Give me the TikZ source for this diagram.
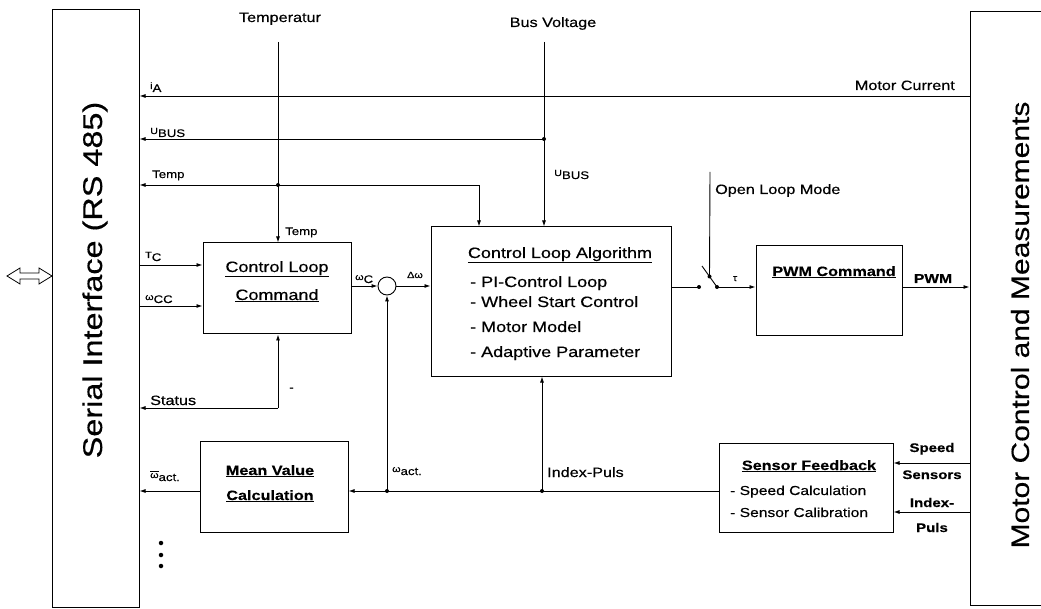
\documentclass[tikz,border=0pt]{standalone}
\usepackage{fontspec}
\setmainfont[FakeStretch=1.2, FakeBold=0.4, BoldFeatures={FakeBold=0.3}]{Liberation Sans}
\usetikzlibrary{arrows.meta, positioning}

\newcommand{\sig}[2]{\raisebox{3pt}{\fontsize{9}{10}\selectfont #1}#2}
\newcommand{\ovl}[1]{\leavevmode\vbox{\hrule height 0.8pt\kern1.2pt\hbox{#1}}}
\newcommand{\uln}[1]{\leavevmode\vtop{\hbox{#1}\kern1.2pt\hrule height 0.9pt}}

\begin{document}
\begin{tikzpicture}[x=1pt, y=-1pt,
    box/.style={draw, line width=1pt, inner sep=0pt},
    arrow/.style={-{Latex[length=6pt,width=4pt]}, line width=0.9pt},
    wire/.style={line width=0.9pt},
    dot/.style={circle, fill, inner sep=0pt, minimum size=4pt},
    lbl/.style={font=\fontsize{13.5}{16}\selectfont, inner sep=0pt, anchor=base west},
    sml/.style={font=\fontsize{11}{13}\selectfont, inner sep=0pt, anchor=base west},
    tny/.style={font=\fontsize{9}{10}\selectfont, inner sep=0pt, anchor=base},
    title/.style={font=\fontsize{15}{18}\selectfont, inner sep=0pt, anchor=base},
    btitle/.style={font=\bfseries\fontsize{13.5}{16}\selectfont, inner sep=0pt, anchor=base},
    item/.style={font=\fontsize{15}{18}\selectfont, inner sep=0pt, anchor=base west},
    sitem/.style={font=\fontsize{13}{16}\selectfont, inner sep=0pt, anchor=base west}
]
    \useasboundingbox (0,0) rectangle (1041,609);
    \clip (0,0) rectangle (1041,609);
    \fill[white] (0,0) rectangle (1041,609);

    % outer interfaces
    \node[box, minimum width=87pt, minimum height=597pt] (serial) at (95.5,308.5) {};
    \node[rotate=90, font=\fontsize{27}{30}\selectfont] (serialtxt) at (95,280) {Serial Interface (RS 485)};
    \node[box, minimum width=130pt, minimum height=593pt] (motor) at (1035,308.5) {};
    \node[rotate=90, font=\fontsize{25}{28}\selectfont] (motortxt) at (1020,325) {Motor Control and Measurements};
    \draw[line width=0.8pt] (7,276) -- (20,268) -- (20,273) -- (39,273) -- (39,268) -- (52,276)
        -- (39,284) -- (39,279) -- (20,279) -- (20,284) -- cycle;

    % blocks
    \node[box, minimum width=148pt, minimum height=91pt] (command) at (277,288.5) {};
    \node[title] (commandtxt) at (277,272) {\uln{Control Loop}};
    \node[title] (commandtxt2) at (277,300) {\uln{Command}};

    \node[box, minimum width=240pt, minimum height=149pt] (algorithm) at (551,301.5) {};
    \node[title] (algorithmtxt) at (560,258) {\uln{Control Loop Algorithm}};
    \foreach \y/\t in {287/PI-Control Loop, 307/Wheel Start Control, 332/Motor Model, 357/Adaptive Parameter}
        \node[item] (algitem\y) at (470,\y) {- \t};

    \node[box, minimum width=146pt, minimum height=90pt] (pwm) at (829,291) {};
    \node[btitle] (pwmtxt) at (834,276) {\uln{PWM Command}};

    \node[box, minimum width=174pt, minimum height=89pt] (feedback) at (806,487.5) {};
    \node[btitle] (feedbacktxt) at (809,470) {\uln{Sensor Feedback}};
    \node[sitem] (fbitem1) at (730,495) {- Speed Calculation};
    \node[sitem] (fbitem2) at (730,517) {- Sensor Calibration};

    \node[box, minimum width=148pt, minimum height=91pt] (mean) at (274,486.5) {};
    \node[btitle] (meantxt) at (270,475) {\uln{Mean Value}};
    \node[btitle] (meantxt2) at (270,500) {\uln{Calculation}};

    \node[circle, draw, line width=0.9pt, minimum size=18pt, inner sep=0pt] (sum) at (387,286) {};

    % junctions and levels
    \coordinate (tempin) at (278,42);
    \coordinate (busin) at (544,42);
    \coordinate (loopin) at (710,172);
    \coordinate (tempbend) at (479,185);
    \coordinate (stat) at (278,408);
    \coordinate (bladetip) at (702,266);
    \coordinate (iay) at (0,96);
    \coordinate (tcy) at (0,265);
    \coordinate (wccy) at (0,306);
    \coordinate (spdy) at (0,463);
    \coordinate (idxy) at (0,512);
    \coordinate (fby) at (0,491);
    \node[dot] (tempdot) at (278,185) {};
    \node[dot] (busdot) at (544,139) {};
    \node[dot] (swin) at (699,287) {};
    \node[dot] (swout) at (717,287) {};
    \node[dot] (bladedot) at (709.5,276.5) {};
    \node[dot] (actdot) at (387,491) {};
    \node[dot] (idxdot) at (542,491) {};
    \foreach \y in {543,555,566}
        \node[dot, minimum size=4.5pt] (vdot\y) at (161,\y) {};

    % connectors
    \draw[arrow] (motor.west |- iay) -- (serial.east |- iay);
    \draw[arrow] (busin) -- (busin |- algorithm.north);
    \draw[arrow] (busdot.center) -- (serial.east |- busdot);
    \draw[arrow] (tempin) -- (tempin |- command.north);
    \draw[arrow] (tempdot.center) -- (serial.east |- tempdot);
    \draw[arrow] (tempdot.center) -- (tempbend) -- (tempbend |- algorithm.north);
    \draw[arrow] (serial.east |- tcy) -- (command.west |- tcy);
    \draw[arrow] (serial.east |- wccy) -- (command.west |- wccy);
    \draw[arrow] (stat) -- (serial.east |- stat);
    \draw[arrow] (stat) -- (stat |- command.south);
    \draw[arrow] (command.east |- sum) -- (sum.west);
    \draw[arrow] (sum.east) -- (algorithm.west |- sum);
    \draw[wire] (algorithm.east |- swin) -- (swin.center);
    \draw[wire] (swout.center) -- (bladetip);
    \draw[wire] (loopin) -- (bladedot.center);
    \draw[arrow] (swout.center) -- (pwm.west |- swout);
    \draw[arrow] (pwm.east |- swout) -- (motor.west |- swout);
    \draw[arrow] (motor.west |- spdy) -- (feedback.east |- spdy);
    \draw[arrow] (motor.west |- idxy) -- (feedback.east |- idxy);
    \draw[arrow] (feedback.west |- fby) -- (mean.east |- fby);
    \draw[arrow] (actdot.center) -- (sum.south);
    \draw[arrow] (idxdot.center) -- (idxdot |- algorithm.south);
    \draw[arrow] (mean.west |- fby) -- (serial.east |- fby);

    % labels
    \node[lbl, anchor=base] (templbl) at (280,22) {Temperatur};
    \node[lbl, anchor=base] (buslbl) at (553,27) {Bus Voltage};
    \node[lbl, anchor=base east] (currlbl) at (955,90) {Motor Current};
    \node[lbl] (looplbl) at (715,194) {Open Loop Mode};
    \node[lbl] (statlbl) at (150,405) {Status};
    \node[lbl] (idxlbl) at (547,477) {Index-Puls};
    \node[sml] (ialbl) at (150,92) {\sig{i}{A}};
    \node[sml] (ubuslbl) at (150,137) {\sig{U}{BUS}};
    \node[sml] (ubus2lbl) at (554,179) {\sig{U}{BUS}};
    \node[sml] (templ) at (152,178) {Temp};
    \node[sml] (tempd) at (285,235) {Temp};
    \node[sml] (tclbl) at (145,261) {\sig{T}{C}};
    \node[sml] (wcclbl) at (145,303) {\sig{ω}{CC}};
    \node[sml] (minuslbl) at (289,391) {-};
    \node[sml] (wclbl) at (355,283) {\sig{ω}{C}};
    \node[tny] (dwlbl) at (415,278) {Δω};
    \node[tny] (taulbl) at (735,281) {τ};
    \node[lbl, anchor=base, font=\bfseries\fontsize{13}{16}\selectfont] (pwmlbl) at (933,283) {PWM};
    \node[sml] (actlbl) at (392,475) {\sig{ω}{act.}};
    \node[sml] (meanlbl) at (150,481) {\sig{\ovl{ω}}{act.}};
    \foreach \y/\t in {452/Speed, 479/Sensors, 507/Index-, 532/Puls}
        \node[lbl, anchor=base, font=\bfseries\fontsize{12.5}{15}\selectfont] (sens\y) at (932,\y) {\t};
\end{tikzpicture}
\end{document}
